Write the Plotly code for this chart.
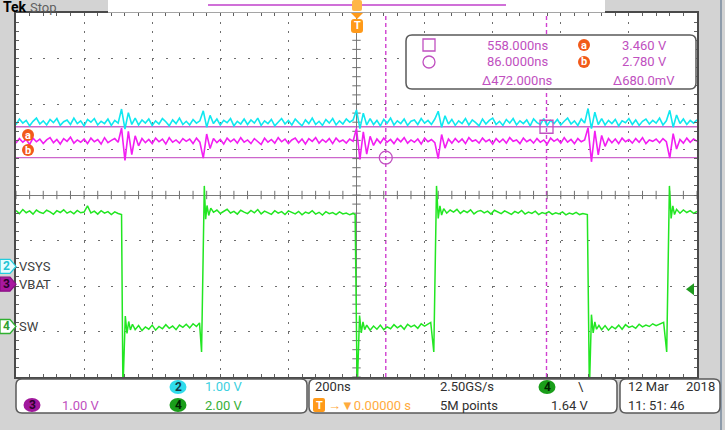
import numpy as np
import plotly.graph_objects as go

# ---------------- data (read from the screen) ----------------
# sample times (ns) of the two supply rails: one sample every 10 ns across the screen
T_SUPPLY_NS = list(range(-1000, 1001, 10))

VSYS_V = [3.12, 3.24, 3.15, 3.21, 3.09, 3.19, 3.26, 3.13, 3.20, 3.11,
          3.23, 3.16, 3.25, 3.10, 3.18, 3.22, 3.12, 3.26, 3.14, 3.20,
          3.09, 3.23, 3.17, 3.25, 3.11, 3.19, 3.14, 3.24, 3.10, 3.21,
          3.15, 3.46, 3.02, 3.38, 3.12, 3.26, 3.11, 3.22, 3.15, 3.24,
          3.10, 3.20, 3.13, 3.25, 3.18, 3.09, 3.22, 3.14, 3.26, 3.12,
          3.19, 3.11, 3.23, 3.15, 3.20, 3.42, 3.06, 3.32, 3.14, 3.24,
          3.11, 3.21, 3.16, 3.25, 3.09, 3.19, 3.13, 3.24, 3.12, 3.22,
          3.15, 3.26, 3.10, 3.20, 3.14, 3.23, 3.09, 3.18, 3.25, 3.13,
          3.21, 3.11, 3.24, 3.16, 3.09, 3.22, 3.14, 3.26, 3.12, 3.19,
          3.10, 3.23, 3.15, 3.25, 3.11, 3.20, 3.13, 3.24, 3.17, 3.22,
          3.44, 3.03, 3.37, 3.11, 3.25, 3.12, 3.21, 3.09, 3.23, 3.15,
          3.26, 3.11, 3.20, 3.14, 3.24, 3.10, 3.19, 3.22, 3.12, 3.25,
          3.15, 3.21, 3.12, 3.24, 3.41, 3.06, 3.31, 3.13, 3.23, 3.10,
          3.20, 3.14, 3.25, 3.11, 3.22, 3.16, 3.09, 3.24, 3.13, 3.21,
          3.26, 3.12, 3.19, 3.10, 3.23, 3.15, 3.25, 3.11, 3.20, 3.14,
          3.22, 3.09, 3.24, 3.16, 3.12, 3.25, 3.10, 3.21, 3.14, 3.23,
          3.11, 3.19, 3.26, 3.13, 3.20, 3.10, 3.24, 3.15, 3.47, 3.03,
          3.39, 3.12, 3.25, 3.11, 3.21, 3.14, 3.23, 3.09, 3.20, 3.16,
          3.25, 3.12, 3.22, 3.10, 3.19, 3.24, 3.13, 3.21, 3.15, 3.26,
          3.11, 3.20, 3.43, 3.06, 3.33, 3.14, 3.24, 3.12, 3.21, 3.15,
          3.22]

VBAT_V = [3.10, 3.20, 3.12, 3.18, 3.07, 3.21, 3.13, 3.19, 3.09, 3.17,
          3.22, 3.11, 3.18, 3.08, 3.20, 3.14, 3.23, 3.10, 3.17, 3.12,
          3.19, 3.09, 3.21, 3.13, 3.18, 3.08, 3.22, 3.11, 3.16, 3.20,
          3.12, 3.43, 2.72, 3.36, 2.85, 3.26, 3.04, 3.20, 3.11, 3.18,
          3.09, 3.21, 3.13, 3.19, 3.08, 3.22, 3.12, 3.17, 3.10, 3.20,
          3.14, 3.19, 3.09, 3.21, 3.12, 2.77, 3.30, 2.98, 3.20, 3.11,
          3.18, 3.08, 3.21, 3.13, 3.19, 3.10, 3.22, 3.12, 3.17, 3.09,
          3.20, 3.14, 3.07, 3.21, 3.12, 3.18, 3.10, 3.22, 3.13, 3.19,
          3.09, 3.17, 3.21, 3.11, 3.19, 3.08, 3.20, 3.14, 3.22, 3.10,
          3.18, 3.12, 3.20, 3.09, 3.21, 3.13, 3.17, 3.10, 3.19, 3.14,
          3.42, 2.74, 3.35, 2.86, 3.25, 3.05, 3.19, 3.10, 3.21, 3.12,
          3.18, 3.09, 3.20, 3.13, 3.22, 3.10, 3.17, 3.12, 3.19, 3.08,
          3.21, 3.13, 3.18, 3.11, 2.76, 3.29, 2.99, 3.19, 3.10, 3.20,
          3.12, 3.19, 3.09, 3.22, 3.14, 3.17, 3.10, 3.21, 3.13, 3.18,
          3.08, 3.20, 3.12, 3.19, 3.10, 3.22, 3.14, 3.17, 3.09, 3.21,
          3.13, 3.18, 3.10, 3.20, 3.12, 3.17, 3.08, 3.21, 3.14, 3.19,
          3.10, 3.22, 3.12, 3.18, 3.09, 3.20, 3.13, 3.17, 3.44, 2.69,
          3.37, 2.84, 3.27, 3.03, 3.20, 3.11, 3.19, 3.09, 3.21, 3.13,
          3.18, 3.10, 3.20, 3.12, 3.22, 3.09, 3.17, 3.14, 3.19, 3.11,
          3.20, 3.13, 2.77, 3.31, 2.97, 3.18, 3.10, 3.21, 3.12, 3.19,
          3.14]

# SW node: plateau samples every 10 ns, plus the read-off edge / ringing instants
T_SW_NS = (list(range(-1000, -699, 10)) + [-690, -686, -679, -674, -669, -664, -658]
           + list(range(-650, -469, 10)) + [-461]
           + [-455, -447, -443, -439, -434, -428]
           + list(range(-420, -9, 10)) + [-4, 2, 9, 14, 19, 24, 30]
           + list(range(40, 211, 10)) + [218]
           + [227, 235, 240, 245, 250, 256]
           + list(range(265, 666, 10)) + [674] + [678, 684, 690, 695, 700, 705, 712]
           + list(range(720, 891, 10)) + [902]
           + [911, 919, 924, 929, 934, 940]
           + list(range(950, 1001, 10)))

SW_V = [5.10, 4.96, 5.14, 5.00, 5.08, 4.94, 5.12, 5.02, 4.97, 5.11,
        5.04, 4.93, 5.09, 5.01, 5.13, 4.98, 5.06, 4.95, 5.10, 5.00,
        5.03, 5.30, 4.99, 5.07, 4.94, 5.09, 4.98, 5.05, 4.92, 5.04,
        4.97,
        4.92, -2.8, 0.46, -0.30, 0.22, -0.15, 0.10,
        -0.14, 0.04, -0.18, -0.02, -0.12, 0.06, -0.16, 0.00, -0.10, 0.08,
        -0.08, 0.02, -0.14, 0.06, -0.04, 0.10, -0.06, 0.12, 0.00, 0.16,
        -1.12, 6.18, 4.72, 5.32, 4.88, 5.20,
        5.02, 5.12, 4.97, 5.08, 5.15, 4.99, 5.06, 4.94, 5.11, 5.03,
        4.96, 5.10, 5.00, 5.14, 4.95, 5.07, 5.01, 4.93, 5.09, 4.98,
        5.05, 4.92, 5.08, 5.00, 4.95, 5.06, 4.91, 5.03, 4.97, 5.09,
        4.94, 5.02, 4.90, 5.05, 4.96, 5.01, 4.92, 5.04, 4.95, 4.99,
        4.91, 4.97,
        4.92, -2.8, 0.48, -0.28, 0.20, -0.14, 0.06,
        -0.16, 0.02, -0.12, 0.06, -0.14, -0.02, -0.10, 0.08, -0.06, 0.04,
        -0.12, 0.10, -0.02, 0.06, -0.08, 0.12, 0.02, 0.10, 0.18,
        -1.12, 6.18, 4.75, 5.30, 4.90, 5.18,
        4.98, 5.12, 5.03, 5.15, 4.97, 5.09, 5.01, 5.13, 4.95, 5.06,
        5.10, 4.99, 5.07, 4.94, 5.11, 5.02, 4.96, 5.08, 5.00, 4.93,
        5.06, 4.98, 5.10, 4.94, 5.03, 4.97, 5.07, 4.92, 5.01, 4.96,
        5.05, 4.93, 5.00, 4.95, 5.04, 4.91, 4.99, 4.94, 5.02, 4.92,
        4.97, 4.95,
        4.92, -2.8, 0.52, -0.28, 0.20, -0.12, 0.05,
        -0.14, 0.04, -0.16, 0.00, -0.10, 0.06, -0.12, 0.08, -0.04, 0.02,
        -0.08, 0.10, -0.02, 0.06, 0.00, 0.12, 0.04, 0.10, 0.18,
        -1.12, 6.18, 4.75, 5.30, 4.92, 5.15,
        4.98, 5.12, 5.01, 5.09, 4.97, 5.06]

CURSOR_T_NS = [558.0, 86.0]      # square, circle
CURSOR_V = [3.460, 2.780]        # a, b  (on CH3)
TRIG_LEVEL_V = 1.64              # CH4
READOUT_T = ["558.000ns", "86.0000ns", "\u0394472.000ns"]
READOUT_V = ["3.460 V", "2.780 V", "\u0394680.0mV"]
CH_NAMES = ["VSYS", "VBAT", "SW"]
CH_NUMS = ["2", "3", "4"]
CH_SCALE_TXT = ["1.00 V", "1.00 V", "2.00 V"]

# ---------------- scope settings (style/position) ----------------
VPDIV = {2: 1.0, 3: 1.0, 4: 2.0}
OFFS = {2: -1.57, 3: -1.96, 4: -2.89}   # ground marker position, divisions


def to_div(v, ch):
    return [x / VPDIV[ch] + OFFS[ch] for x in v]


FONT = "Roboto, Liberation Sans, sans-serif"
CYAN = "#10e8f0"
MAG = "#f21ef2"
GREEN = "#22e622"
CUR = "#cc66cc"
CURTXT = "#c050c0"
ORANGE = "#f25a1a"
BG = "#d3d3d3"

L, R, T, B = 16, 697, 13, 377


def px(x):
    return (x - L) / (R - L)


def py(y):
    return (B - y) / (B - T)


def P(x, y):
    return f"{px(x):.5f},{py(y):.5f}"


def rrect(x0, y0, x1, y1, r):
    return (f"M{P(x0 + r, y0)} L{P(x1 - r, y0)} Q{P(x1, y0)} {P(x1, y0 + r)} "
            f"L{P(x1, y1 - r)} Q{P(x1, y1)} {P(x1 - r, y1)} L{P(x0 + r, y1)} "
            f"Q{P(x0, y1)} {P(x0, y1 - r)} L{P(x0, y0 + r)} Q{P(x0, y0)} {P(x0 + r, y0)} Z")


shapes = []
annotations = []


def path(d, fill=None, line=None, lw=1.0, layer="above"):
    shapes.append(dict(type="path", path=d, xref="paper", yref="paper", layer=layer,
                       fillcolor=fill if fill else "rgba(0,0,0,0)",
                       line=dict(color=line if line else "rgba(0,0,0,0)", width=lw if line else 0)))


def box(x0, y0, x1, y1, fill=None, line=None, lw=1.0, kind="rect"):
    shapes.append(dict(type=kind, xref="paper", yref="paper", x0=px(x0), x1=px(x1), y0=py(y1), y1=py(y0),
                       layer="above", fillcolor=fill if fill else "rgba(0,0,0,0)",
                       line=dict(color=line if line else "rgba(0,0,0,0)", width=lw if line else 0)))


def txt(s, x, y, color="#303030", size=13, anchor="left", bold=False):
    annotations.append(dict(text=f"<b>{s}</b>" if bold else s, x=px(x), y=py(y), xref="paper", yref="paper",
                            xanchor=anchor, yanchor="middle", showarrow=False,
                            font=dict(color=color, size=size, family=FONT)))


# ----- top bar -----
box(108, 0, 605, 12.5, fill="white")
shapes.append(dict(type="line", xref="paper", yref="paper", x0=px(208), x1=px(506), y0=py(5), y1=py(5),
                   line=dict(color="#d070d8", width=2), layer="above"))
path(rrect(352, 0, 362, 11, 2), fill="#ffb648")
txt("Tek", 1, 7, color="#000000", size=14, bold=True)
txt("Stop", 28, 7, color="#606060", size=13)
# trigger position marker
path(f"M{P(351, 13)} L{P(363, 13)} L{P(357, 19)} Z", fill="#ff9a1a")
path(rrect(351, 19, 363, 33, 3), fill="#ff9a1a")
txt("T", 357, 26, color="white", size=11, anchor="center", bold=True)

# ----- right strip line -----
shapes.append(dict(type="line", xref="paper", yref="paper", x0=px(721), x1=px(721), y0=py(0), y1=py(430),
                   line=dict(color="#8e9cab", width=2), layer="above"))

# ----- cursors -----
a_div, b_div = to_div(CURSOR_V, 3)
for yv in (a_div, b_div):
    shapes.append(dict(type="line", xref="paper", yref="y", x0=0, x1=1, y0=yv, y1=yv,
                       line=dict(color=CUR, width=1.3), layer="between"))
for tv in CURSOR_T_NS:
    shapes.append(dict(type="line", xref="x", yref="paper", x0=tv, x1=tv, y0=0, y1=1,
                       line=dict(color="#d040d0", width=1.4, dash="4px,3px"), layer="between"))

# ----- readout box -----
path(rrect(406, 35, 696, 89, 6), fill="white", line="#5a5a5a", lw=1.5)
box(423, 39, 435, 51, line=CURTXT, lw=1.3)
box(423, 56, 435, 68, line=CURTXT, lw=1.3, kind="circle")
for i, s in enumerate(READOUT_T):
    txt(s, 517, [45, 62, 80][i], color=CURTXT, anchor="center")
for i, s in enumerate(READOUT_V):
    txt(s, 644, [45, 62, 80][i], color=CURTXT, anchor="center")
for lab, yy in (("a", 45), ("b", 62)):
    box(578, yy - 6, 590, yy + 6, fill=ORANGE, kind="circle")
    txt(lab, 584, yy, color="white", size=11, anchor="center", bold=True)

# ----- left a/b markers -----
for lab, yy in (("a", 135), ("b", 150)):
    box(22, yy - 6, 34, yy + 6, fill=ORANGE, kind="circle")
    txt(lab, 28, yy, color="white", size=11, anchor="center", bold=True)

# ----- channel ground markers -----
ch_style = {2: ("#e6fdff", "#22ccdd", "#22c4d4"), 3: ("#a8189f", "#8a0f86", "#2a002a"),
            4: ("white", "#30b030", "#30a030")}
for ch, name, num in zip((2, 3, 4), CH_NAMES, CH_NUMS):
    yy = 195 - OFFS[ch] * 45.5
    fill, ln, tc = ch_style[ch]
    path(f"M{P(0, yy - 7)} L{P(10, yy - 7)} L{P(16, yy)} L{P(10, yy + 7)} L{P(0, yy + 7)} Z",
         fill=fill, line=ln, lw=1.3)
    txt(num, 6, yy, color=tc, size=12, anchor="center", bold=True)
    txt(name, 17, yy, color="#404040", size=13)

# ----- trigger level arrow (CH4) -----
trig_div = TRIG_LEVEL_V / VPDIV[4] + OFFS[4]
trig_y = 195 - trig_div * 45.5
path(f"M{P(686, trig_y)} L{P(694, trig_y - 6)} L{P(694, trig_y + 6)} Z", fill="#1f9a1f")

# ----- status boxes -----
path(rrect(16, 379, 307, 413, 6), fill="white", line="#5a5a5a", lw=1.5)
path(rrect(309, 379, 617, 413, 6), fill="white", line="#5a5a5a", lw=1.5)
path(rrect(620, 379, 720, 413, 6), fill="white", line="#5a5a5a", lw=1.5)


def badge(num, cx, cy, fill, tc):
    box(cx - 8.5, cy - 7, cx + 8.5, cy + 7, fill=fill, kind="circle")
    txt(num, cx, cy, color=tc, size=12, anchor="center", bold=True)


badge(CH_NUMS[0], 178, 387, "#30dcec", "#103a44")
txt(CH_SCALE_TXT[0], 203, 387, color="#3cd0e0")
badge(CH_NUMS[1], 32, 405, "#a0189c", "#2a002a")
txt(CH_SCALE_TXT[1], 60, 405, color=CURTXT)
badge(CH_NUMS[2], 178, 405, "#1a9e1a", "#002200")
txt(CH_SCALE_TXT[2], 203, 405, color="#38b038")

txt("200ns", 313, 387)
txt("2.50GS/s", 438, 387)
badge(CH_NUMS[2], 547, 387, "#1a9e1a", "#002200")
txt("\\", 576, 387)
path(rrect(313, 398, 325, 412, 2), fill="#ff9a1a")
txt("T", 319, 405, color="white", size=11, anchor="center", bold=True)
txt("\u2192\u25bc0.00000 s", 326, 405, color="#ffab3d")
txt("5M points", 438, 405)
txt(f"{TRIG_LEVEL_V:.2f} V", 549, 405)
txt("12 Mar", 626, 387)
txt("2018", 717, 387, anchor="right")
txt("11: 51: 46", 626, 405)

# ---------------- figure ----------------
fig = go.Figure()

# graticule centre-line ticks
xm = np.arange(-1000, 1001, 40)
ym = np.arange(-4, 4.001, 0.2)
fig.add_trace(go.Scatter(x=xm, y=np.zeros_like(xm, dtype=float), mode="markers", hoverinfo="skip",
                         marker=dict(symbol="line-ns-open", size=6, color="#707070",
                                     line=dict(color="#707070", width=1)),
                         showlegend=False))
fig.add_trace(go.Scatter(x=np.zeros_like(ym), y=ym, mode="markers", hoverinfo="skip",
                         marker=dict(symbol="line-ew-open", size=6, color="#707070",
                                     line=dict(color="#707070", width=1)),
                         showlegend=False))

fig.add_trace(go.Scatter(x=T_SW_NS, y=to_div(SW_V, 4), mode="lines", line=dict(color=GREEN, width=1.5),
                         name="SW", showlegend=False))
fig.add_trace(go.Scatter(x=T_SUPPLY_NS, y=to_div(VSYS_V, 2), mode="lines", line=dict(color=CYAN, width=1.6),
                         name="VSYS", showlegend=False))
fig.add_trace(go.Scatter(x=T_SUPPLY_NS, y=to_div(VBAT_V, 3), mode="lines", line=dict(color=MAG, width=1.6),
                         name="VBAT", showlegend=False))
# cursor markers
fig.add_trace(go.Scatter(x=[CURSOR_T_NS[0]], y=[a_div], mode="markers", hoverinfo="skip", showlegend=False,
                         marker=dict(symbol="square-open", size=13, color=CURTXT,
                                     line=dict(color=CURTXT, width=1.3))))
fig.add_trace(go.Scatter(x=[CURSOR_T_NS[1]], y=[b_div], mode="markers", hoverinfo="skip", showlegend=False,
                         marker=dict(symbol="circle-open", size=13, color=CURTXT,
                                     line=dict(color=CURTXT, width=1.3))))

axis_common = dict(showticklabels=False, showline=True, linecolor="#4a4a4a", linewidth=1.5, mirror="ticks",
                   ticks="inside", ticklen=3, tickcolor="#606060", zeroline=True, zerolinecolor="#7a7a7a",
                   zerolinewidth=1, gridcolor="#6e6e6e", gridwidth=1, fixedrange=True)
fig.update_xaxes(range=[-1000, 1000], dtick=200, tick0=0, griddash="2px,7.1px",
                 minor=dict(dtick=40, ticks="inside", ticklen=3, tickcolor="#606060", showgrid=False),
                 **axis_common)
fig.update_yaxes(range=[-4, 4], dtick=1, tick0=0, griddash="2px,11.62px",
                 minor=dict(dtick=0.2, ticks="inside", ticklen=3, tickcolor="#606060", showgrid=False),
                 **axis_common)

fig.update_layout(width=725, height=430, autosize=False,
                  margin=dict(l=16, r=28, t=13, b=53, pad=0),
                  paper_bgcolor=BG, plot_bgcolor="white",
                  shapes=shapes, annotations=annotations, showlegend=False,
                  font=dict(family=FONT))

fig.write_html("out.html", config={"displayModeBar": False},
               post_script="document.body.style.margin='0';document.body.style.padding='0';"
                           "document.body.style.overflow='hidden';")
